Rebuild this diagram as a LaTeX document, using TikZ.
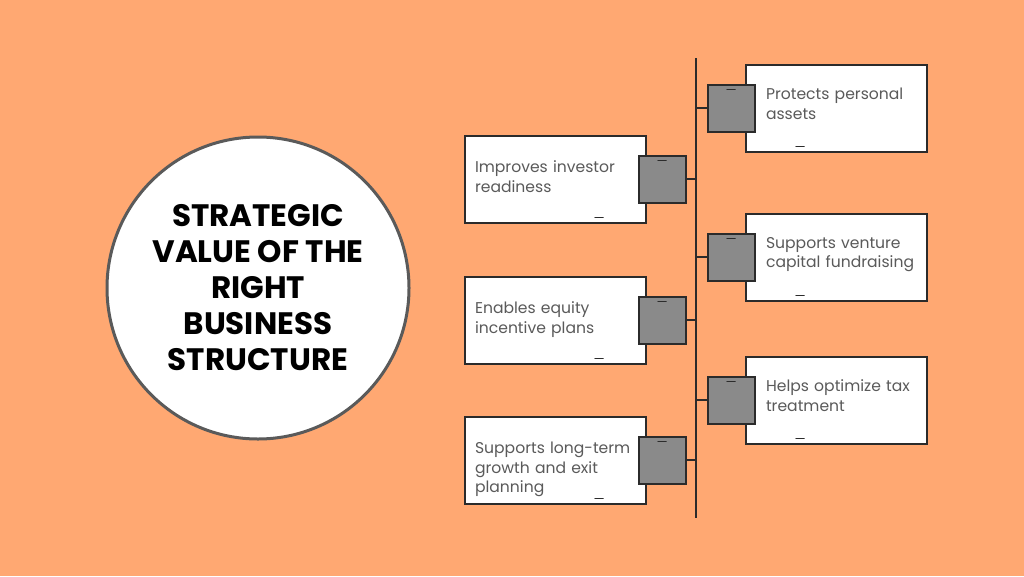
\documentclass[tikz,border=0pt]{standalone}
\usepackage{fontspec}
\setmainfont{Poppins}
\usetikzlibrary{positioning, calc}
\definecolor{bgorange}{HTML}{FFA872}
\definecolor{inkgrey}{HTML}{2B2B2B}
\definecolor{txtgrey}{HTML}{5A5A5A}
\definecolor{tabgrey}{HTML}{8A8A8A}
\tikzset{
  card/.style={draw=inkgrey, line width=2pt, fill=white, minimum width=181pt,
    minimum height=87pt, inner sep=0pt},
  tab/.style={draw=inkgrey, line width=2pt, fill=tabgrey, minimum size=47pt, inner sep=0pt},
  label/.style={text=txtgrey, font=\fontsize{15.6}{19.5}\selectfont, align=left,
    text width=158pt, anchor=north west},
  tick/.style={inkgrey, line width=2pt},
  smudge/.style={inkgrey, line width=1.5pt, line cap=round}
}
\begin{document}
\begin{tikzpicture}[x=1pt, y=-1pt]
  \useasboundingbox (0,0) rectangle (1024,576);
  \fill[bgorange] (0,0) rectangle (1024,576);
  % title circle
  \node (hub) [circle, draw=txtgrey, line width=3pt, fill=white, minimum size=302pt,
    align=center, font=\bfseries\fontsize{31}{36}\selectfont] at (258,288)
    {STRATEGIC\\VALUE OF THE\\RIGHT\\BUSINESS\\STRUCTURE};
  % spine
  \coordinate (top) at (696,58);
  \coordinate (bot) at (696,518);
  \draw[tick] (top) -- (bot);
  % right cards
  \foreach \n/\y/\txt in {r1/108/{Protects personal\\assets},
      r2/257/{Supports venture\\capital fundraising},
      r3/400/{Helps optimize tax\\treatment}} {
    \node (card\n) [card] at (836,\y) {};
    \node (tab\n) [tab] at (731,\y) {};
    \coordinate (sp\n) at (696,\y);
    \draw[tick] (sp\n) -- (tab\n.west);
    \node [label] at ($(card\n.north west)+(18,21)$) {\txt};
    \draw[smudge] ($(tab\n.north)+(-4,6)$) -- ++(8,0);
    \draw[smudge] ($(card\n.south)+(-40,-6)$) -- ++(8,0);
  }
  % left cards
  \foreach \n/\y/\txt in {l1/179/{Improves investor\\readiness},
      l2/320/{Enables equity\\incentive plans},
      l3/460/{Supports long-term\\growth and exit\\planning}} {
    \node (card\n) [card] at (555,\y) {};
    \node (tab\n) [tab] at (662,\y) {};
    \coordinate (sp\n) at (696,\y);
    \draw[tick] (sp\n) -- (tab\n.east);
    \node [label] at ($(card\n.north west)+(8,23)$) {\txt};
    \draw[smudge] ($(tab\n.north)+(-4,6)$) -- ++(8,0);
    \draw[smudge] ($(card\n.south)+(40,-6)$) -- ++(8,0);
  }
\end{tikzpicture}
\end{document}
